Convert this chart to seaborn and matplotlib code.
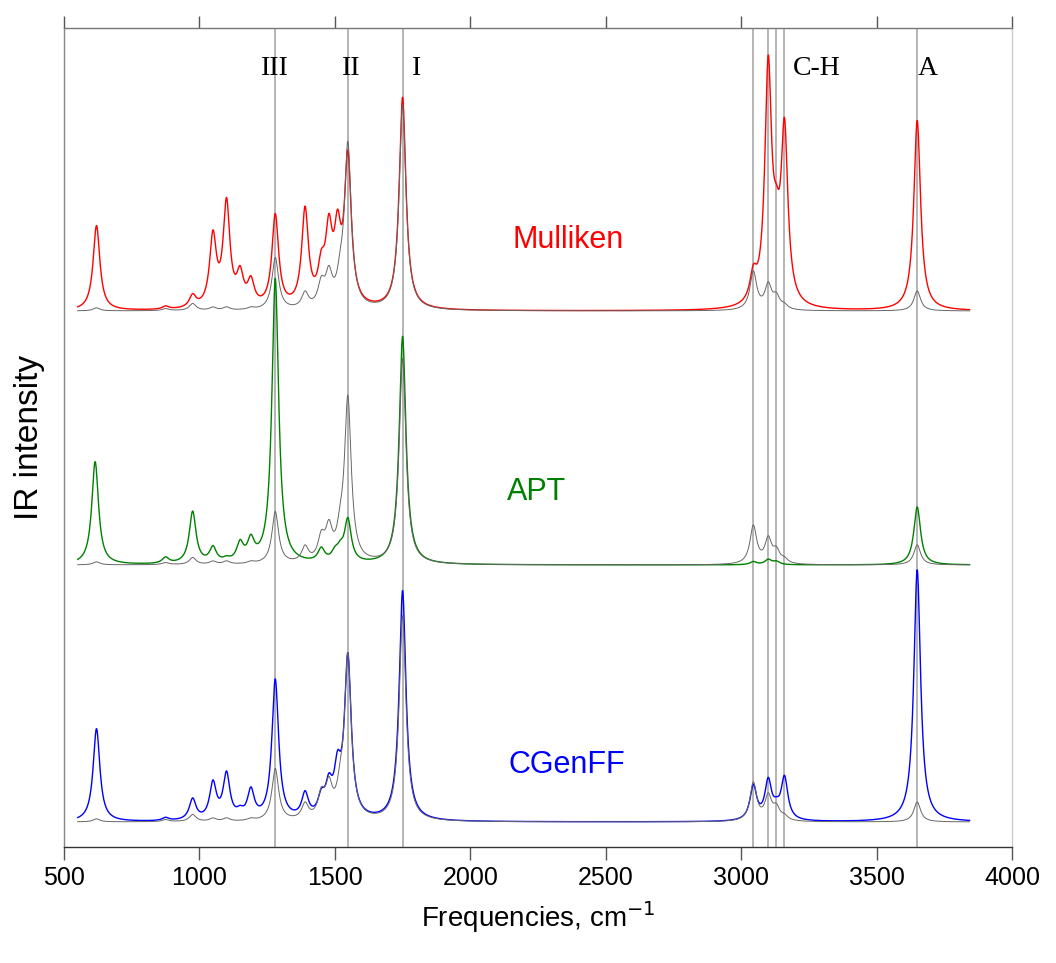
import numpy as np
import pandas as pd
import matplotlib
matplotlib.use("Agg")
import matplotlib.pyplot as plt
import seaborn as sns

# ---- data (peak positions in cm-1 and peak intensities, arbitrary units) ----
ref_pos = [620, 875, 975, 1050, 1100, 1190, 1280, 1390, 1450, 1478, 1520, 1548, 1750, 3045, 3100, 3130, 3160, 3650]
ref_int = [3, 2, 7, 3, 3, 2, 52, 15, 22, 30, 20, 162, 205, 38, 24, 12, 4, 20]

mull_pos = [620, 875, 975, 1050, 1100, 1150, 1190, 1280, 1390, 1450, 1478, 1510, 1548, 1750, 3045, 3100, 3130, 3160, 3650]
mull_int = [85, 3, 12, 70, 103, 30, 24, 92, 96, 32, 68, 65, 146, 212, 26, 235, 45, 170, 190]

apt_pos = [615, 875, 975, 1050, 1100, 1150, 1190, 1280, 1450, 1500, 1520, 1548, 1750, 3045, 3100, 3130, 3650]
apt_int = [103, 6, 52, 15, 3, 18, 20, 285, 13, 8, 10, 42, 228, 3, 5, 3, 58]

cgen_pos = [620, 875, 975, 1050, 1100, 1150, 1190, 1280, 1390, 1450, 1478, 1510, 1548, 1750, 3045, 3100, 3130, 3160, 3650]
cgen_int = [93, 3, 21, 36, 45, 6, 28, 140, 24, 18, 28, 42, 160, 230, 34, 38, 8, 42, 252]

series_names = ["Mulliken", "APT", "CGenFF"]
series_colors = ["#ff0000", "#008000", "#0000ff"]
series_offsets = [536, 282, 25]

mode_lines = [1280, 1548, 1750, 3045, 3100, 3130, 3160, 3650]
mode_labels = ["III", "II", "I", "C-H", "A"]
mode_label_x = [1280, 1560, 1800, 3280, 3690]

xticks = [500, 1000, 1500, 2000, 2500, 3000, 3500, 4000]

# ---- line shape ----
freq = np.arange(550.0, 3845.0, 1.0)
gamma = 15.0


def spectrum(pos, inten):
    y = np.zeros_like(freq)
    for p, h in zip(pos, inten):
        y += h * gamma ** 2 / ((freq - p) ** 2 + gamma ** 2)
    return y


ref = spectrum(ref_pos, ref_int)
spectra = [spectrum(mull_pos, mull_int), spectrum(apt_pos, apt_int), spectrum(cgen_pos, cgen_int)]

sns.set_theme(style="white")
plt.rcParams["font.family"] = ["Liberation Sans", "DejaVu Sans"]
plt.rcParams["text.color"] = "black"
plt.rcParams["axes.labelcolor"] = "black"
plt.rcParams["xtick.color"] = "black"

fig = plt.figure(figsize=(10.56, 9.63), dpi=100)
ax = fig.add_axes([64 / 1056, 1 - 847 / 963, (1012 - 64) / 1056, (847 - 28) / 963])

for xv in mode_lines:
    ax.axvline(xv, color="#a0a0a0", lw=1.1, zorder=1)

for name, col, off, sp in zip(series_names, series_colors, series_offsets, spectra):
    df = pd.DataFrame({"freq": freq, "val": sp + off, "ref": ref + off})
    sns.lineplot(data=df, x="freq", y="val", color=col, lw=1.0, estimator=None, sort=False, ax=ax, zorder=2)
    sns.lineplot(data=df, x="freq", y="ref", color="#666666", lw=0.7, estimator=None, sort=False, ax=ax, zorder=3)

ax.set_xlim(500, 4000)
ax.set_ylim(0, 819)
ax.set_xticks(xticks)
ax.set_yticks([])
ax.tick_params(axis="x", which="major", direction="out", length=9, width=1, color="#555555",
               labelcolor="black", top=True, bottom=True, labeltop=False, labelsize=18, pad=5)
for s, c in zip(["left", "right", "top", "bottom"], ["#888888", "#cccccc", "#777777", "#333333"]):
    ax.spines[s].set_color(c)
    ax.spines[s].set_linewidth(1.0)

# series labels
ax.text(2360, 607, "Mulliken", color="#ff0000", fontsize=22, ha="center", va="center")
ax.text(2245, 355, "APT", color="#008000", fontsize=22, ha="center", va="center")
ax.text(2355, 82, "CGenFF", color="#0000ff", fontsize=22, ha="center", va="center")

for lab, lx in zip(mode_labels, mode_label_x):
    ax.text(lx, 779, lab, fontsize=20, family=["Liberation Serif", "DejaVu Serif"], ha="center", va="center", color="black")

ax.set_xlabel("Frequencies, cm$^{-1}$", fontsize=20, labelpad=6)
ax.set_ylabel("IR intensity", fontsize=24, labelpad=14)

fig.savefig("out.png", dpi=100)
